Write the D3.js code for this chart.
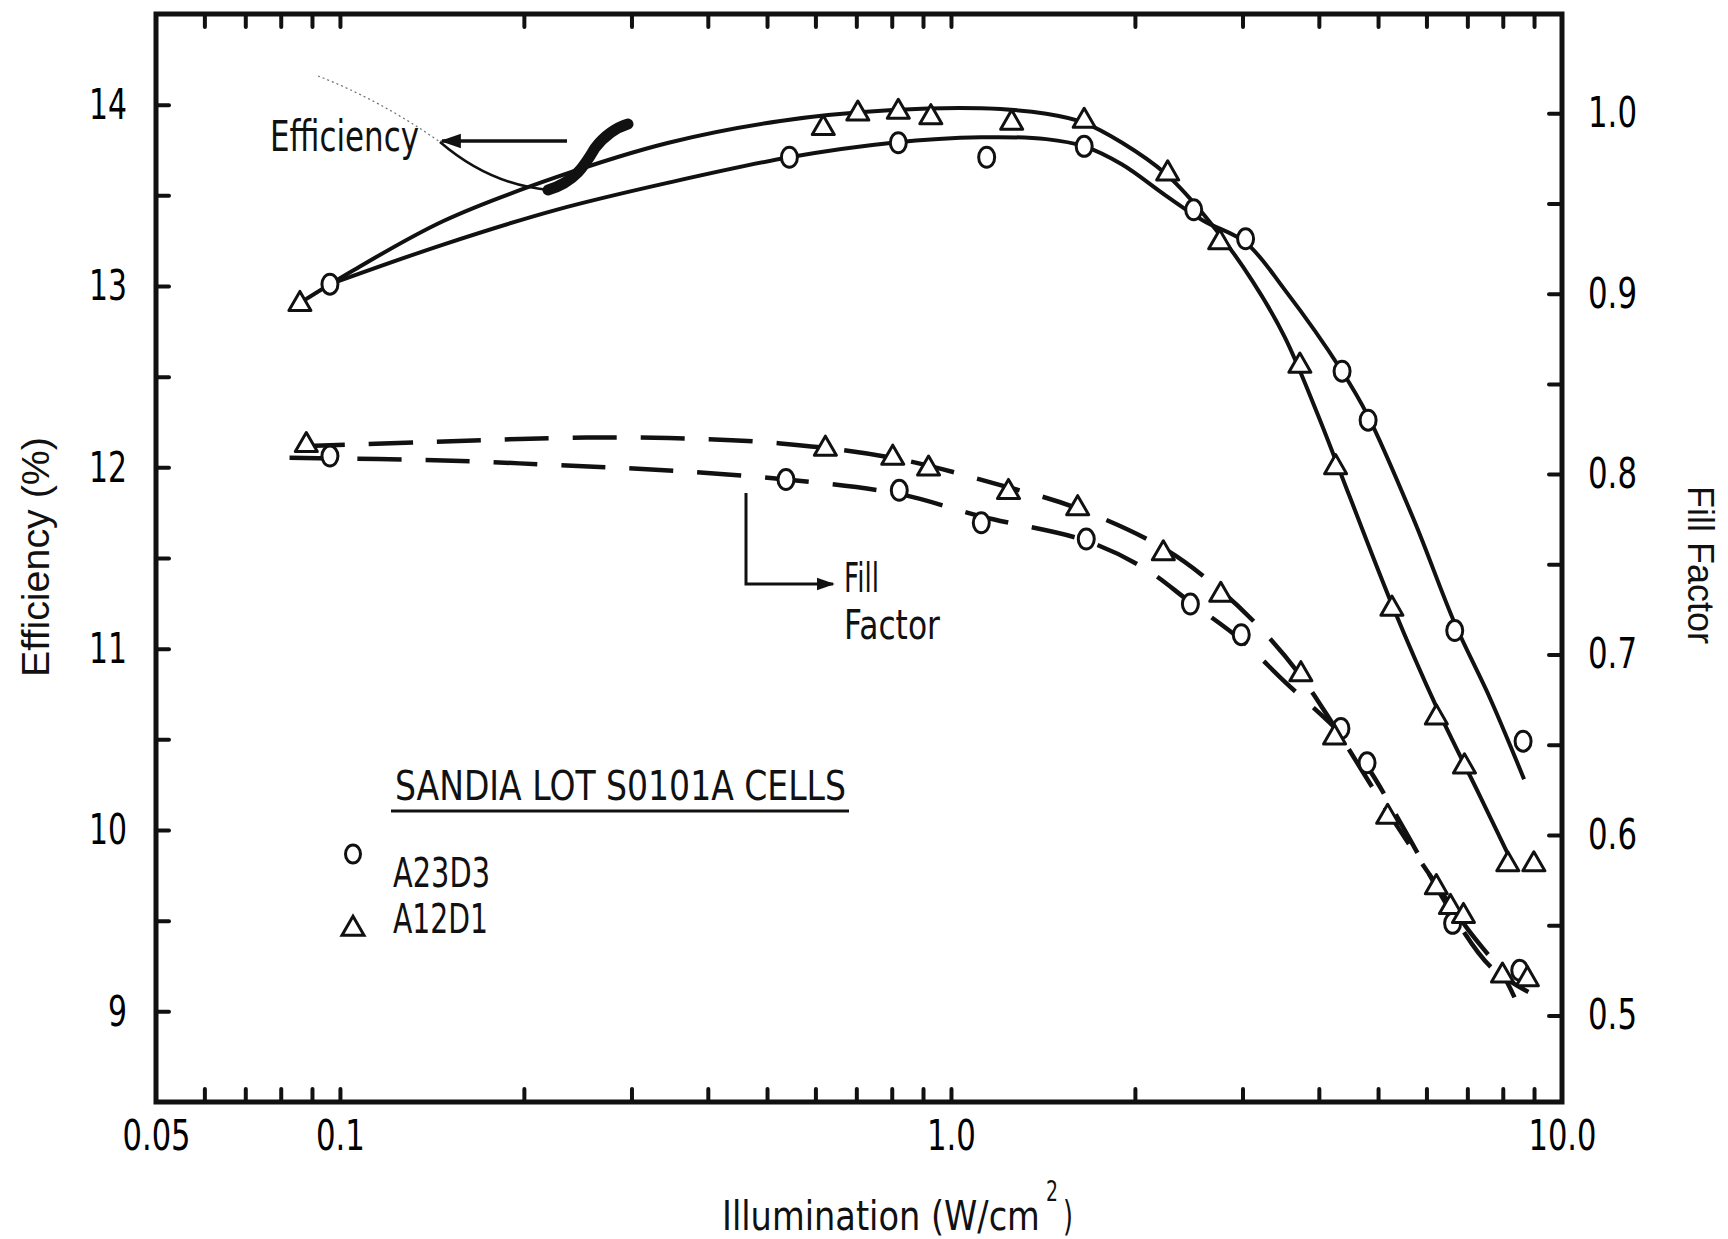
<!DOCTYPE html>
<html>
<head>
<meta charset="utf-8">
<script src="https://cdn.jsdelivr.net/npm/d3@7"></script>
<style>
  body { margin: 0; background: #fff; }
  svg { display: block; }
</style>
</head>
<body>
<svg id="chart"></svg>
<script>
// measured points, illumination in W/cm2
const effTriIllum = [0.086, 0.618, 0.704, 0.820, 0.927, 1.257, 1.652, 2.263, 2.753, 3.724, 4.261, 5.268, 6.228, 6.924, 8.153, 8.993];
const effTriVal   = [12.90, 13.87, 13.95, 13.96, 13.93, 13.90, 13.91, 13.62, 13.24, 12.56, 12.00, 11.22, 10.62, 10.35, 9.81, 9.81];

const effCircIllum = [0.0963, 0.544, 0.820, 1.144, 1.652, 2.496, 3.035, 4.366, 4.816, 6.675, 8.636];
const effCircVal   = [13.01, 13.71, 13.79, 13.71, 13.77, 13.42, 13.26, 12.53, 12.26, 11.10, 10.49];

const ffTriIllum = [0.0881, 0.623, 0.803, 0.919, 1.242, 1.612, 2.226, 2.764, 3.738, 4.244, 5.184, 6.228, 6.568, 6.898, 7.990, 8.776];
const ffTriVal   = [0.816, 0.814, 0.809, 0.803, 0.790, 0.781, 0.756, 0.733, 0.689, 0.654, 0.610, 0.571, 0.560, 0.555, 0.522, 0.520];

const ffCircIllum = [0.0963, 0.537, 0.823, 1.121, 1.665, 2.465, 2.986, 4.347, 4.797, 6.622, 8.528];
const ffCircVal   = [0.810, 0.797, 0.791, 0.773, 0.764, 0.728, 0.711, 0.659, 0.640, 0.551, 0.525];

// hand drawn fit curves, [illumination, value]
const effTriCurve = [[0.0863,12.91],[0.1056,13.09],[0.148,13.36],[0.226,13.60],[0.345,13.79],[0.526,13.91],[0.803,13.97],[1.121,13.98],[1.432,13.95],[1.652,13.90],[1.906,13.79],[2.244,13.62],[2.642,13.36],[3.111,13.03],[3.516,12.72],[3.974,12.30],[4.491,11.84],[5.289,11.23],[6.228,10.68],[7.334,10.19],[8.286,9.82]];
const effCircCurve = [[0.0963,13.01],[0.148,13.23],[0.226,13.42],[0.345,13.57],[0.544,13.71],[0.803,13.79],[1.121,13.82],[1.432,13.81],[1.652,13.77],[1.906,13.67],[2.244,13.50],[2.589,13.36],[3.035,13.24],[3.516,12.98],[4.365,12.53],[4.819,12.28],[5.739,11.70],[6.675,11.14],[7.640,10.72],[8.668,10.28]];
const ffTriCurve = [[0.0863,0.8155],[0.148,0.818],[0.226,0.820],[0.345,0.820],[0.526,0.817],[0.803,0.809],[1.217,0.7935],[1.612,0.781],[2.226,0.759],[2.753,0.736],[3.241,0.713],[3.738,0.688],[4.244,0.660],[5.184,0.613],[6.228,0.5725],[7.040,0.547],[7.957,0.524],[8.36,0.510]];
const ffCircCurve = [[0.0827,0.809],[0.148,0.8076],[0.226,0.805],[0.345,0.802],[0.537,0.797],[0.823,0.789],[1.121,0.7765],[1.665,0.763],[2.068,0.748],[2.465,0.729],[2.986,0.708],[3.516,0.685],[4.347,0.656],[4.797,0.638],[5.510,0.6035],[6.622,0.556],[7.638,0.527],[8.81,0.513]];

// axes
const illumTicks = [0.06, 0.07, 0.08, 0.09, 0.1, 0.2, 0.3, 0.4, 0.5, 0.6, 0.7, 0.8, 0.9, 1, 2, 3, 4, 5, 6, 7, 8, 9];
const illumLabels = [0.05, 0.1, 1, 10];
const illumLabelText = ["0.05", "0.1", "1.0", "10.0"];
const effTicks = [9, 9.5, 10, 10.5, 11, 11.5, 12, 12.5, 13, 13.5, 14];
const effLabels = [9, 10, 11, 12, 13, 14];
const ffTicks = [0.5, 0.55, 0.6, 0.65, 0.7, 0.75, 0.8, 0.85, 0.9, 0.95, 1.0];
const ffLabels = [0.5, 0.6, 0.7, 0.8, 0.9, 1.0];

const W = 1728, H = 1239;
const margin = {top: 14, right: 166, bottom: 137, left: 156};
const leroy = '"DejaVu Sans", "Liberation Sans", sans-serif';
const helv = '"Liberation Sans", Arial, Helvetica, sans-serif';
const ink = "#111";

// squeeze text to a set width, the lettering on the original is condensed
const fit = (sel, w) => sel.attr("textLength", w).attr("lengthAdjust", "spacingAndGlyphs");
const numWidth = s => s.split("").reduce((a, c) => a + (c === "." ? 11 : 19), 0);
// same idea but with a real transform, so the box of the text shrinks too
const squeeze = (sel, px, py, w) => {
  const n = sel.node().getComputedTextLength();
  sel.attr("transform", `translate(${px},${py}) scale(${w / n},1)`);
};

const svg = d3.select("#chart")
  .attr("width", W)
  .attr("height", H)
  .attr("viewBox", [0, 0, W, H]);

svg.append("rect").attr("width", W).attr("height", H).attr("fill", "#fff");

const x = d3.scaleLog()
  .domain([0.05, 10])
  .range([margin.left, W - margin.right]);
const yL = d3.scaleLinear()
  .domain([8.5, 14.5])
  .range([H - margin.bottom, margin.top]);
const yR = d3.scaleLinear()
  .domain([0.452, 1.055])
  .range([H - margin.bottom, margin.top]);

const x0 = margin.left, x1 = W - margin.right, y0 = margin.top, y1 = H - margin.bottom;

// inward ticks on all four sides
const tickStyle = g => {
  g.select(".domain").remove();
  g.selectAll(".tick line")
    .attr("stroke", ink)
    .attr("stroke-width", 4)
    .attr("stroke-linecap", "round");
};

svg.append("g")
  .attr("transform", `translate(0,${y1})`)
  .call(d3.axisBottom(x).tickValues(illumTicks).tickSize(-13).tickFormat(""))
  .call(tickStyle);
svg.append("g")
  .attr("transform", `translate(0,${y0})`)
  .call(d3.axisTop(x).tickValues(illumTicks).tickSize(-13).tickFormat(""))
  .call(tickStyle);
svg.append("g")
  .attr("transform", `translate(${x0},0)`)
  .call(d3.axisLeft(yL).tickValues(effTicks).tickSize(-13).tickFormat(""))
  .call(tickStyle);
svg.append("g")
  .attr("transform", `translate(${x1},0)`)
  .call(d3.axisRight(yR).tickValues(ffTicks).tickSize(-13).tickFormat(""))
  .call(tickStyle);

// frame
svg.append("rect")
  .attr("x", x0).attr("y", y0)
  .attr("width", x1 - x0).attr("height", y1 - y0)
  .attr("fill", "none")
  .attr("stroke", ink)
  .attr("stroke-width", 5);

// tick labels
const labelStyle = (g, size) => {
  g.select(".domain").remove();
  g.attr("font-family", leroy).attr("font-size", size).attr("fill", ink);
  g.selectAll("text").each(function() {
    const t = d3.select(this);
    fit(t, numWidth(t.text()));
  });
};

svg.append("g")
  .attr("transform", `translate(0,${y1})`)
  .call(d3.axisBottom(x).tickValues(illumLabels).tickSize(0).tickPadding(18)
    .tickFormat((d, i) => illumLabelText[i]))
  .call(labelStyle, 42);
svg.append("g")
  .attr("transform", `translate(${x0},0)`)
  .call(d3.axisLeft(yL).tickValues(effLabels).tickSize(0).tickPadding(29).tickFormat(d3.format("d")))
  .call(labelStyle, 43);
svg.append("g")
  .attr("transform", `translate(${x1},0)`)
  .call(d3.axisRight(yR).tickValues(ffLabels).tickSize(0).tickPadding(26).tickFormat(d3.format(".1f")))
  .call(labelStyle, 42);

// axis titles
svg.append("text")
  .attr("transform", `translate(35,557) rotate(-90)`)
  .attr("text-anchor", "middle")
  .attr("dominant-baseline", "central")
  .attr("font-family", helv)
  .attr("font-size", 39)
  .attr("fill", ink)
  .text("Efficiency (%)")
  .call(fit, 240);

svg.append("text")
  .attr("transform", `translate(1700,565) rotate(90)`)
  .attr("text-anchor", "middle")
  .attr("dominant-baseline", "central")
  .attr("font-family", helv)
  .attr("font-size", 37)
  .attr("fill", ink)
  .text("Fill Factor")
  .call(fit, 158);

svg.append("text")
  .attr("font-family", leroy)
  .attr("font-size", 40)
  .attr("fill", ink)
  .text("Illumination (W/cm")
  .call(squeeze, 722, 1230, 318);
svg.append("text")
  .attr("font-family", leroy)
  .attr("font-size", 28)
  .attr("fill", ink)
  .text("2")
  .call(squeeze, 1046, 1201, 12);
svg.append("text")
  .attr("font-family", leroy)
  .attr("font-size", 40)
  .attr("fill", ink)
  .text(")")
  .call(squeeze, 1063, 1230, 10);

// curves
const effLine = d3.line()
  .curve(d3.curveCatmullRom.alpha(0.5))
  .x(d => x(d[0]))
  .y(d => yL(d[1]));
const ffLine = d3.line()
  .curve(d3.curveCatmullRom.alpha(0.5))
  .x(d => x(d[0]))
  .y(d => yR(d[1]));

const curves = svg.append("g").attr("fill", "none").attr("stroke", ink);

curves.selectAll("path.eff")
  .data([effTriCurve, effCircCurve])
  .join("path")
    .attr("class", "eff")
    .attr("stroke-width", 4)
    .attr("d", effLine);

curves.selectAll("path.ff")
  .data([ffTriCurve, ffCircCurve])
  .join("path")
    .attr("class", "ff")
    .attr("stroke-width", 4.5)
    .attr("stroke-dasharray", "44,24")
    .attr("d", ffLine);

// markers
const tri = d3.symbol().type(d3.symbolTriangle).size(210);

const addCircles = (xs, vs, scale) => {
  svg.append("g")
    .selectAll("ellipse")
    .data(xs.map((d, i) => [d, vs[i]]))
    .join("ellipse")
      .attr("cx", d => x(d[0]))
      .attr("cy", d => scale(d[1]))
      .attr("rx", 8)
      .attr("ry", 10)
      .attr("fill", "#fff")
      .attr("stroke", ink)
      .attr("stroke-width", 3);
};
const addTriangles = (xs, vs, scale) => {
  svg.append("g")
    .selectAll("path")
    .data(xs.map((d, i) => [d, vs[i]]))
    .join("path")
      .attr("transform", d => `translate(${x(d[0])},${scale(d[1])})`)
      .attr("d", tri)
      .attr("fill", "#fff")
      .attr("stroke", ink)
      .attr("stroke-width", 3)
      .attr("stroke-linejoin", "round");
};

addCircles(effCircIllum, effCircVal, yL);
addTriangles(effTriIllum, effTriVal, yL);
addCircles(ffCircIllum, ffCircVal, yR);
addTriangles(ffTriIllum, ffTriVal, yR);

// annotations
svg.append("defs").append("marker")
    .attr("id", "head")
    .attr("viewBox", "0 0 10 10")
    .attr("refX", 9).attr("refY", 5)
    .attr("markerWidth", 6).attr("markerHeight", 6)
    .attr("orient", "auto-start-reverse")
  .append("path")
    .attr("d", "M0,1.5L10,5L0,8.5z")
    .attr("fill", ink);

const notes = svg.append("g").attr("fill", "none").attr("stroke", ink);

svg.append("text")
  .attr("x", 270).attr("y", 151)
  .attr("font-family", leroy)
  .attr("font-size", 42).attr("fill", ink)
  .text("Efficiency")
  .call(fit, 149);

notes.append("line")
  .attr("x1", 567).attr("y1", 141).attr("x2", 442).attr("y2", 141)
  .attr("stroke-width", 3.5)
  .attr("marker-end", "url(#head)");
notes.append("path")
  .attr("d", "M440,142 Q490,185 550,190")
  .attr("stroke-width", 2.5);
notes.append("path")
  .attr("d", "M318,76 Q380,100 440,142")
  .attr("stroke-width", 1.2)
  .attr("stroke-dasharray", "2,3")
  .attr("opacity", 0.6);
notes.append("path")
  .attr("d", "M548,190 C575,182 585,165 595,148 C605,135 615,128 628,124")
  .attr("stroke-width", 11)
  .attr("stroke-linecap", "round");

svg.append("text")
  .attr("x", 844).attr("y", 592)
  .attr("font-family", leroy)
  .attr("font-size", 41).attr("fill", ink)
  .text("Fill")
  .call(fit, 35);
svg.append("text")
  .attr("x", 844).attr("y", 639)
  .attr("font-family", leroy)
  .attr("font-size", 41).attr("fill", ink)
  .text("Factor")
  .call(fit, 96);
notes.append("path")
  .attr("d", "M746,493 V584 H833")
  .attr("stroke-width", 3)
  .attr("marker-end", "url(#head)");

// legend
svg.append("text")
  .attr("x", 395).attr("y", 800)
  .attr("font-family", leroy)
  .attr("font-size", 40).attr("fill", ink)
  .text("SANDIA LOT S0101A CELLS")
  .call(fit, 451);
notes.append("line")
  .attr("x1", 391).attr("y1", 811).attr("x2", 849).attr("y2", 811)
  .attr("stroke-width", 3);

svg.append("ellipse")
  .attr("cx", 353).attr("cy", 854).attr("rx", 7.5).attr("ry", 9)
  .attr("fill", "#fff").attr("stroke", ink).attr("stroke-width", 3);
svg.append("path")
  .attr("transform", "translate(353,929)")
  .attr("d", tri)
  .attr("fill", "#fff").attr("stroke", ink).attr("stroke-width", 3);

svg.append("text")
  .attr("x", 393).attr("y", 887)
  .attr("font-family", leroy)
  .attr("font-size", 41).attr("fill", ink)
  .text("A23D3")
  .call(fit, 97);
svg.append("text")
  .attr("x", 393).attr("y", 933)
  .attr("font-family", leroy)
  .attr("font-size", 41).attr("fill", ink)
  .text("A12D1")
  .call(fit, 95);
</script>
</body>
</html>
